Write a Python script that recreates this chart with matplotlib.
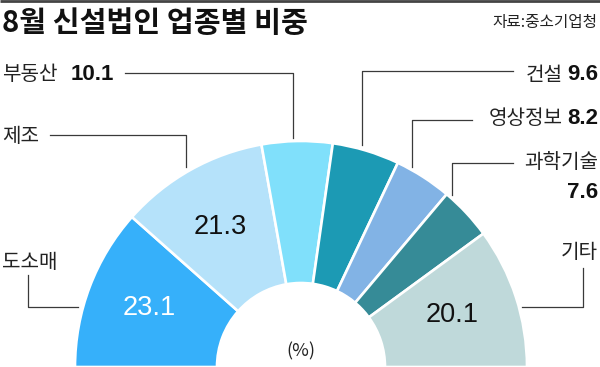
import matplotlib
matplotlib.use("Agg")
import matplotlib.pyplot as plt
from matplotlib import font_manager

plt.rcParams['font.family'] = ['Noto Sans CJK KR', 'DejaVu Sans']

categories = ['도소매', '제조', '부동산', '건설', '영상정보', '과학기술', '기타']
values = [23.1, 21.3, 10.1, 9.6, 8.2, 7.6, 20.1]
colors = ['#36b0fa', '#b5e2fa', '#80e0fb', '#1c9ab4', '#82b3e5', '#368b97', '#bfd9da']
title = '8월 신설법인 업종별 비중'
source = '자료:중소기업청'

W, H = 600, 367
fig = plt.figure(figsize=(6.0, 3.67), dpi=100)
ax = fig.add_axes([0, 0, 1, 1])

def Y(y):
    return H - y

# pick a narrow font for numbers if available
try:
    font_manager.findfont(font_manager.FontProperties(family='Liberation Sans Narrow'),
                          fallback_to_default=False)
    num_font = 'Liberation Sans Narrow'
    big_sz, lab_sz = 21.5, 18.5
except Exception:
    num_font = 'Liberation Sans'
    big_sz, lab_sz = 19.5, 16

cx, cy = 301, Y(367)
r_out, r_in = 226, 84

wedges, _ = ax.pie(values + [sum(values)], colors=colors + ['none'],
                   startangle=180, counterclock=False,
                   center=(cx, cy), radius=r_out,
                   wedgeprops=dict(width=r_out - r_in, edgecolor='white', linewidth=1.9))
wedges[-1].set_visible(False)

ax.set_xlim(0, W)
ax.set_ylim(0, H)
ax.set_aspect('equal')
ax.axis('off')

lc = '#3a3a3a'
lw = 0.9
kor_sz = 14.5

# top rule
ax.plot([0, W], [Y(1), Y(1)], color='#444444', lw=2.0, solid_capstyle='butt')

# title & source
ax.text(2, Y(23), title, fontsize=21, fontweight='bold', ha='left', va='center', color='#111111')
ax.text(597, Y(23), source, fontsize=11.3, ha='right', va='center', color='#222222')

# in-wedge values
ax.text(149, Y(308), f'{values[0]}', fontsize=big_sz, family=num_font, color='white', ha='center', va='center')
ax.text(220, Y(227), f'{values[1]}', fontsize=big_sz, family=num_font, color='#111111', ha='center', va='center')
ax.text(452, Y(315), f'{values[6]}', fontsize=big_sz, family=num_font, color='#111111', ha='center', va='center')
ax.text(301, Y(351), '(%)', fontsize=13, color='#222222', ha='center', va='center')

fig.canvas.draw()
renderer = fig.canvas.get_renderer()
inv = ax.transData.inverted()

def right_pair(label, val, y):
    t = ax.text(598, Y(y), f'{val}', fontsize=lab_sz, family=num_font, fontweight='bold',
                ha='right', va='center', color='#111111')
    bb = t.get_window_extent(renderer=renderer)
    x0 = inv.transform((bb.x0, bb.y0))[0]
    ax.text(x0 - 4, Y(y), label, fontsize=kor_sz, ha='right', va='center', color='#222222')

# labels
ax.text(2, Y(262), categories[0], fontsize=kor_sz, ha='left', va='center', color='#222222')
ax.plot([28, 28, 78], [Y(275), Y(307), Y(307)], color=lc, lw=lw)

ax.text(2, Y(137), categories[1], fontsize=kor_sz, ha='left', va='center', color='#222222')
ax.plot([50, 186, 186], [Y(135), Y(135), Y(167)], color=lc, lw=lw)

ax.text(2, Y(74), categories[2], fontsize=kor_sz, ha='left', va='center', color='#222222')
ax.text(71, Y(74), f'{values[2]}', fontsize=lab_sz, family=num_font, fontweight='bold',
        ha='left', va='center', color='#111111')
ax.plot([125, 293, 293], [Y(73), Y(73), Y(138)], color=lc, lw=lw)

right_pair(categories[3], values[3], 75)
ax.plot([513, 362, 362], [Y(71), Y(71), Y(145)], color=lc, lw=lw)

right_pair(categories[4], values[4], 118)
ax.plot([472, 412, 412], [Y(120), Y(120), Y(167)], color=lc, lw=lw)

ax.text(598, Y(163), categories[5], fontsize=kor_sz, ha='right', va='center', color='#222222')
ax.text(598, Y(193), f'{values[5]}', fontsize=lab_sz, family=num_font, fontweight='bold',
        ha='right', va='center', color='#111111')
ax.plot([513, 452, 452], [Y(163), Y(163), Y(195)], color=lc, lw=lw)

ax.text(598, Y(253), categories[6], fontsize=kor_sz, ha='right', va='center', color='#222222')
ax.plot([583, 583, 522], [Y(268), Y(307), Y(307)], color=lc, lw=lw)

fig.savefig('out.png', dpi=100)
